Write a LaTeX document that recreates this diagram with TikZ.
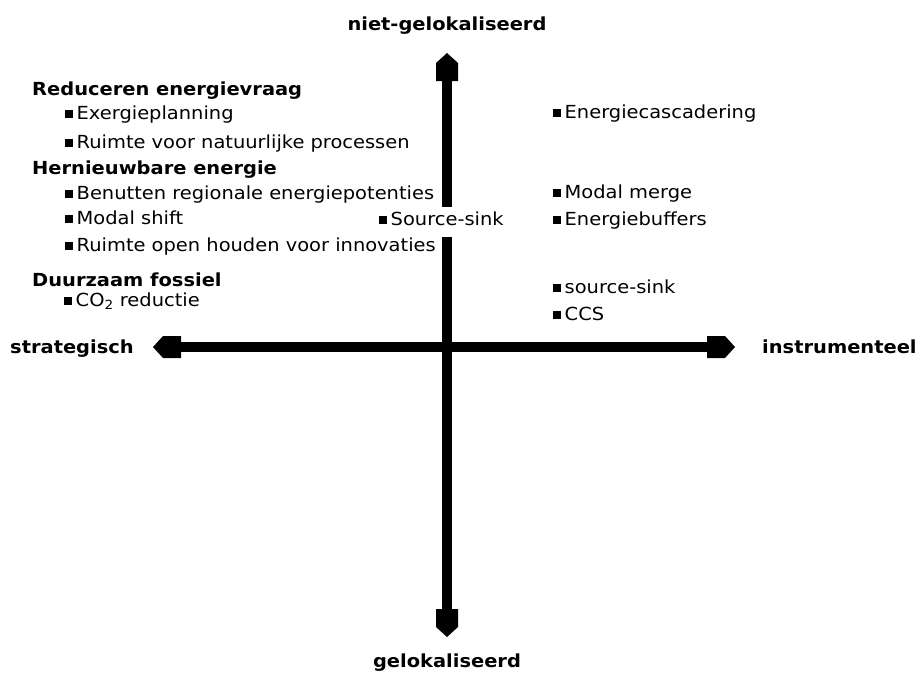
\documentclass[tikz,border=0pt]{standalone}
\usepackage{fontspec}
\setmainfont{DejaVu Sans}[FakeStretch=1.08]

% pentagon ("house") arrow head used on both ends of each axis
\pgfdeclarearrow{
  name = HouseTip,
  setup code = {
    \pgfarrowssettipend{0pt}
    \pgfarrowssetlineend{-20pt}
    \pgfarrowssetvisualbackend{-28pt}
    \pgfarrowssetbackend{-28pt}
    \pgfarrowshullpoint{0pt}{0pt}
    \pgfarrowsupperhullpoint{-28pt}{11pt}
  },
  drawing code = {
    \pgfpathmoveto{\pgfpoint{0pt}{0pt}}
    \pgfpathlineto{\pgfpoint{-10pt}{11pt}}
    \pgfpathlineto{\pgfpoint{-28pt}{11pt}}
    \pgfpathlineto{\pgfpoint{-28pt}{-11pt}}
    \pgfpathlineto{\pgfpoint{-10pt}{-11pt}}
    \pgfpathclose
    \pgfusepathqfill
  }
}

\newcommand\bul{\rule[1.5pt]{7.5pt}{7.5pt}\hspace{4pt}}

\tikzset{
  axis/.style={line width=10pt, HouseTip-HouseTip},
  lbl/.style={font=\fontsize{18}{21}\selectfont, inner sep=0pt, anchor=base west},
  head/.style={lbl, font=\fontsize{18}{21}\selectfont\bfseries},
  axlbl/.style={head},
}

\begin{document}
\begin{tikzpicture}[x=1pt, y=-1pt]
  \useasboundingbox (0,0) rectangle (921,675);

  % axes
  \coordinate (N) at (447,53);
  \coordinate (S) at (447,637);
  \coordinate (W) at (153,347);
  \coordinate (E) at (735,347);
  \draw[axis] (W) -- (E);
  \draw[axis] (S) -- (N);

  % axis labels
  \node[axlbl, anchor=base] (top) at (447,30) {niet-gelokaliseerd};
  \node[axlbl, anchor=base] (bottom) at (447,667) {gelokaliseerd};
  \node[axlbl] (left) at (10,353) {strategisch};
  \node[axlbl] (right) at (762,353) {instrumenteel};

  % strategic column
  \node[head] (h1) at (32,95) {Reduceren energievraag};
  \node[lbl] (a1) at (65,119) {\bul Exergieplanning};
  \node[lbl] (a2) at (65,148) {\bul Ruimte voor natuurlijke processen};
  \node[head] (h2) at (32,174) {Hernieuwbare energie};
  \node[lbl] (b1) at (65,199) {\bul Benutten regionale energiepotenties};
  \node[lbl] (b2) at (65,224) {\bul Modal shift};
  \node[lbl] (b3) at (65,251) {\bul Ruimte open houden voor innovaties};
  \node[head] (h3) at (32,286) {Duurzaam fossiel};
  \node[lbl] (c1) at (64,306) {\bul CO\textsubscript{2} reductie};

  % label crossing the vertical axis
  \node[lbl, fill=white, inner xsep=2pt, inner ysep=5pt, text height=13pt, text depth=7pt]
    (ss) at (377,225) {\bul Source-sink};

  % instrumental column
  \node[lbl] (r1) at (553,118) {\bul Energiecascadering};
  \node[lbl] (r2) at (553,198) {\bul Modal merge};
  \node[lbl] (r3) at (553,225) {\bul Energiebuffers};
  \node[lbl] (r4) at (553,293) {\bul source-sink};
  \node[lbl] (r5) at (553,320) {\bul CCS};
\end{tikzpicture}
\end{document}
